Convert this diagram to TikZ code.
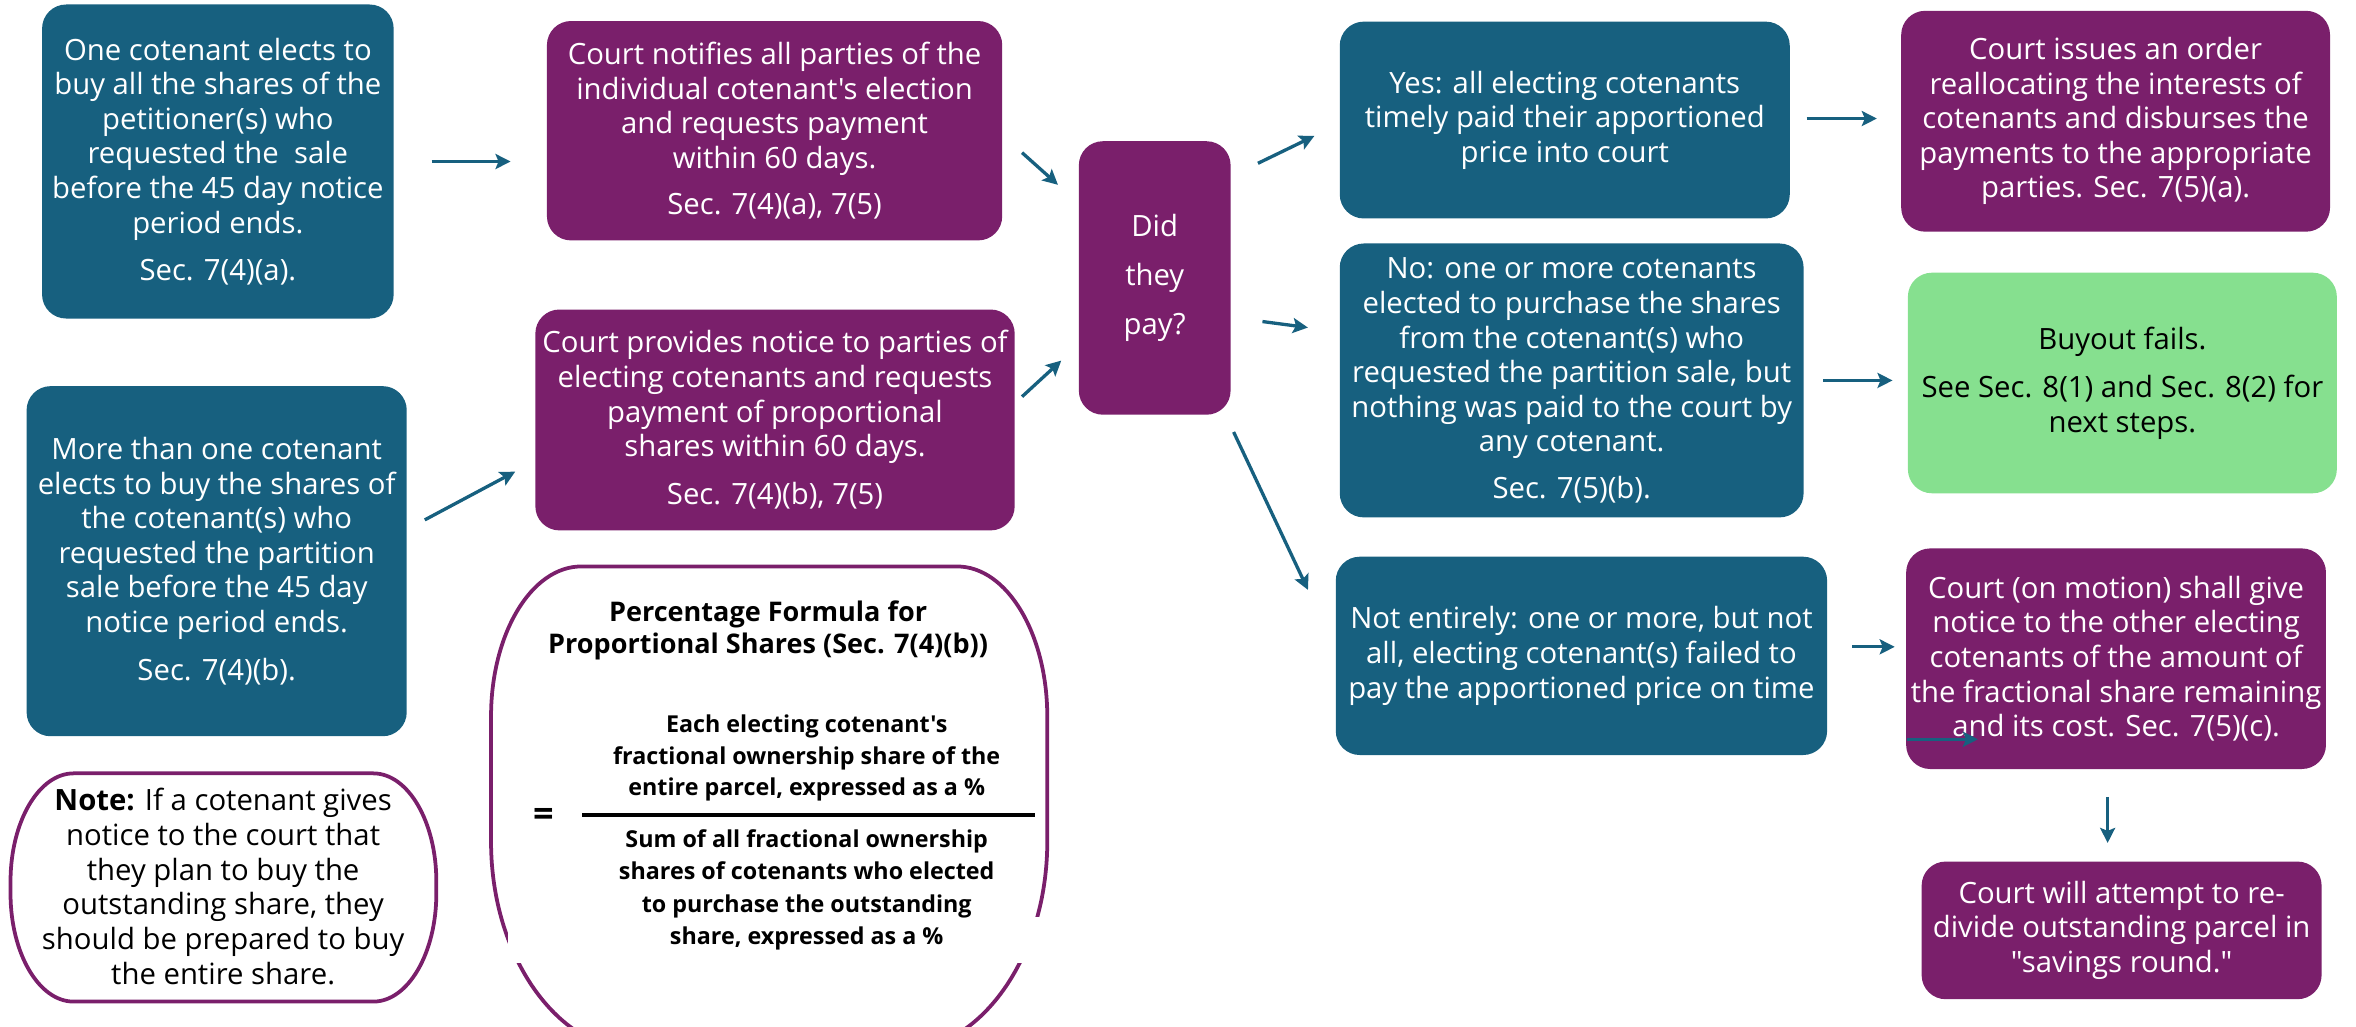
\documentclass[tikz,border=0pt]{standalone}
\usepackage{fontspec}
\setmainfont{Open Sans}[Ligatures=TeXOff]
\usetikzlibrary{arrows.meta,calc}
\definecolor{flowteal}{HTML}{17607F}
\definecolor{flowpurple}{HTML}{7A1F6B}
\definecolor{flowgreen}{HTML}{86E08F}

\begin{document}
\begin{tikzpicture}[x=1pt, y=1pt,
  box/.style={rounded corners=16pt, align=center, inner sep=0pt, text=white,
    font=\fontsize{19.5}{23}\selectfont},
  tealbox/.style={box, fill=flowteal},
  purplebox/.style={box, fill=flowpurple},
  frame/.style={draw=flowpurple, line width=2.5pt},
  arr/.style={draw=flowteal, line width=2.2pt, -{Stealth[length=10pt,width=10pt,inset=2pt]}}]
\useasboundingbox (0,0) rectangle (1568,683);

% left column
\node[tealbox, minimum width=234pt, minimum height=209pt] (onebuyer) at (145,575.5)
  {One cotenant elects to\\buy all the shares of the\\petitioner(s) who\\requested the~ sale\\before the 45 day notice\\period ends.\\[8.5pt]Sec. 7(4)(a).};
\node[tealbox, minimum width=253pt, minimum height=233pt] (manybuyers) at (144.2,309.5)
  {More than one cotenant\\elects to buy the shares of\\the cotenant(s) who\\requested the partition\\sale before the 45 day\\notice period ends.\\[9pt]Sec. 7(4)(b).};
\draw[frame] (49,168.3) -- (248.4,168.3) arc[start angle=90, end angle=0, x radius=42, y radius=72]
  -- (290.4,88.4) arc[start angle=0, end angle=-90, x radius=42, y radius=72]
  -- (49,16.4) arc[start angle=270, end angle=180, x radius=42, y radius=72]
  -- (7,96.3) arc[start angle=180, end angle=90, x radius=42, y radius=72] -- cycle;
\node[align=center, font=\fontsize{19.5}{23.1}\selectfont] (note) at (148.5,93)
  {{\bfseries Note:} If a cotenant gives\\notice to the court that\\they plan to buy the\\outstanding share, they\\should be prepared to buy\\the entire share.};

% court notices
\node[purplebox, minimum width=303pt, minimum height=146pt] (notifyall) at (515.5,596)
  {Court notifies all parties of the\\individual cotenant's election\\and requests payment\\within 60 days.\\[8pt]Sec. 7(4)(a), 7(5)};
\node[purplebox, minimum width=319pt, minimum height=147pt] (notifyprop) at (515.8,403.5)
  {Court provides notice to parties of\\electing cotenants and requests\\payment of proportional\\shares within 60 days.\\[9pt]Sec. 7(4)(b), 7(5)};

% formula
\draw[frame] (386.8,306) -- (637,306) arc[start angle=90, end angle=0, x radius=60, y radius=100]
  -- (697,123) arc[start angle=0, end angle=-90, x radius=100, y radius=140]
  -- (426.8,-17) arc[start angle=270, end angle=180, x radius=100, y radius=140]
  -- (326.8,206) arc[start angle=180, end angle=90, x radius=60, y radius=100] -- cycle;
\fill[white] (338,42) rectangle (692,73);
\node[align=center, font=\bfseries\fontsize{18}{21.8}\selectfont] (ftitle) at (511.2,263.5)
  {Percentage Formula for\\Proportional Shares (Sec. 7(4)(b))};
\node[align=center, font=\bfseries\fontsize{15.5}{21}\selectfont] (fnum) at (536.9,178.3)
  {Each electing cotenant's\\fractional ownership share of the\\entire parcel, expressed as a \%};
\draw[line width=2.2pt] (387.5,140.6) -- (688.6,140.6);
\node[font=\bfseries\fontsize{24}{24}\selectfont] (equals) at (361.8,139) {=};
\node[align=center, font=\bfseries\fontsize{15.5}{21.5}\selectfont] (fden) at (536.9,90.7)
  {Sum of all fractional ownership\\shares of cotenants who elected\\to purchase the outstanding\\share, expressed as a \%};

% decision
\node[purplebox, minimum width=101pt, minimum height=182pt, font=\fontsize{19.5}{32.5}\selectfont] (paid) at (768.5,498)
  {Did\\they\\pay?};

% outcomes
\node[tealbox, minimum width=299.5pt, minimum height=131pt] (yes) at (1041.4,603.1)
  {Yes: all electing cotenants\\timely paid their apportioned\\price into court};
\node[tealbox, minimum width=308.7pt, minimum height=182.3pt] (no) at (1046,429.8)
  {No: one or more cotenants\\elected to purchase the shares\\from the cotenant(s) who\\requested the partition sale, but\\nothing was paid to the court by\\any cotenant.\\[8pt]Sec. 7(5)(b).};
\node[tealbox, minimum width=327pt, minimum height=132pt] (partial) at (1052.5,246.5)
  {Not entirely: one or more, but not\\all, electing cotenant(s) failed to\\pay the apportioned price on time};

% results
\node[purplebox, minimum width=285.4pt, minimum height=147pt] (order) at (1408,602.3)
  {Court issues an order\\reallocating the interests of\\cotenants and disburses the\\payments to the appropriate\\parties. Sec. 7(5)(a).};
\node[box, fill=flowgreen, text=black, minimum width=285.5pt, minimum height=146.8pt] (fails) at (1412.5,428.1)
  {Buyout fails.\\[9pt]See Sec. 8(1) and Sec. 8(2) for\\next steps.};
\node[purplebox, minimum width=279.4pt, minimum height=146.8pt] (motion) at (1408.3,244.6)
  {Court (on motion) shall give\\notice to the other electing\\cotenants of the amount of\\the fractional share remaining\\and its cost. Sec. 7(5)(c).};
\node[purplebox, minimum width=266.2pt, minimum height=91.6pt] (resplit) at (1412,63.8)
  {Court will attempt to re-\\divide outstanding parcel in\\"savings round."};

% arrows
\draw[arr] ($(onebuyer.east)+(25,0)$) -- ($(onebuyer.east -| notifyall.west)+(-24,0)$);
\draw[arr] ($(manybuyers.east)+(11.8,27.5)$) -- ($(notifyprop.west)+(-13.2,-34.4)$);
\draw[arr] ($(notifyall.east)+(13,-14.6)$) -- ($(paid.west)+(-13.7,62)$);
\draw[arr] ($(notifyprop.east)+(4.7,15.5)$) -- ($(paid.west)+(-11.5,-55)$);
\draw[arr] ($(paid.east)+(18,76.3)$) -- ($(yes.west)+(-16.7,-10.6)$);
\draw[arr] ($(paid.east)+(21,-29)$) -- ($(no.west)+(-21,35.2)$);
\draw[arr] ($(paid.south east)+(1.8,-11.3)$) -- ($(partial.west)+(-18.3,43.9)$);
\draw[arr] ($(yes.east)+(11,1)$) -- ($(yes.east -| order.west)+(-16,1)$);
\draw[arr] ($(no.east)+(13,0)$) -- ($(no.east -| fails.west)+(-10,0)$);
\draw[arr] ($(partial.east)+(16.5,6)$) -- ($(partial.east -| motion.west)+(-7.4,6)$);
\draw[arr] ($(motion.south)+(-5.6,-18.4)$) -- ($(motion.south |- resplit.north)+(-5.6,12.2)$);
\draw[arr] ($(motion.south west)+(1,20)$) -- ($(motion.south west)+(48,20)$);
\end{tikzpicture}
\end{document}
